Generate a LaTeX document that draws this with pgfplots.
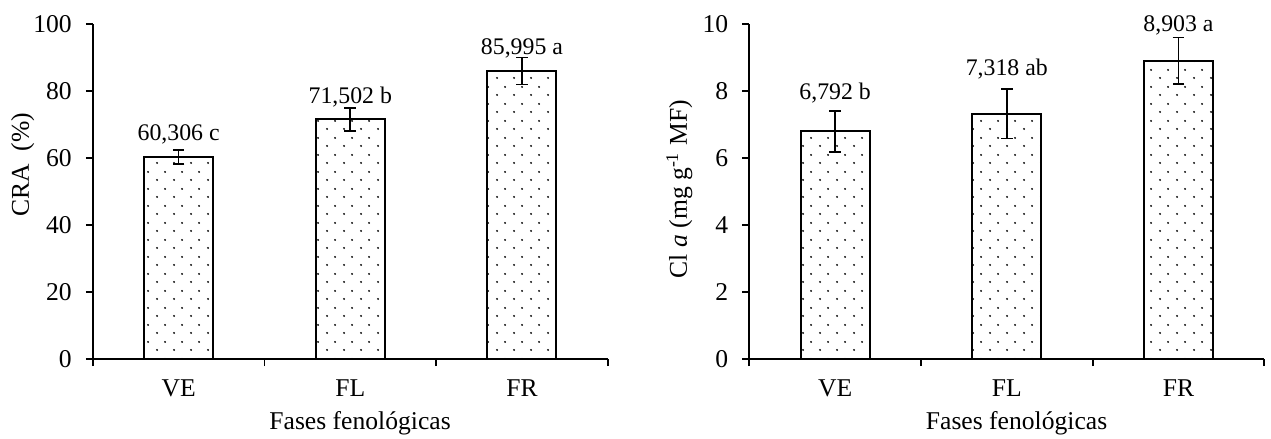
\documentclass[border=0pt]{standalone}
\usepackage{fontspec}
\setmainfont{Liberation Serif}
\usepackage{pgfplots}
\pgfplotsset{compat=1.18}
\usepackage{pgfplotstable}
\usetikzlibrary{patterns}

% staggered dot fill of the bars
\pgfdeclarepatternformonly{sdots}{\pgfqpoint{0pt}{0pt}}{\pgfqpoint{8.5pt}{8.5pt}}{\pgfqpoint{8.5pt}{8.5pt}}{%
  \pgfpathcircle{\pgfqpoint{2.125pt}{2.125pt}}{0.55pt}%
  \pgfpathcircle{\pgfqpoint{6.375pt}{6.375pt}}{0.55pt}%
  \pgfusepath{fill}}

\newcommand\tickfont{\fontsize{12.8pt}{15pt}\selectfont}
\newcommand\labfont{\fontsize{11.9pt}{14pt}\selectfont}

% x = bar centre, err = half error bar, ly = baseline of the value label
\pgfplotstableread{
x   y      err   ly    lab
0.5 60.306 2.15  65.2  {60,306 c}
1.5 71.502 3.39  76.4  {71,502 b}
2.5 85.995 4.03  91.0  {85,995 a}
}\cra
\pgfplotstableread{
x   y     err    ly    lab
0.5 6.792 0.61   7.76  {6,792 b}
1.5 7.318 0.735  8.46  {7,318 ab}
2.5 8.903 0.695  9.78  {8,903 a}
}\cla

\pgfplotsset{panel/.style={
  scale only axis, width=257.5pt, height=167.5pt, xmin=0, xmax=3, ymin=0,
  axis lines*=left, axis line style={line width=1.1pt, black},
  tick align=outside, major tick length=3.5pt,
  every tick/.style={black, line width=0.9pt},
  xtick={0,1,2,3}, xticklabels={,,,},
  extra x ticks={0.5,1.5,2.5}, extra x tick labels={VE,FL,FR},
  extra x tick style={major tick length=0pt},
  ticklabel style={font=\tickfont},
  yticklabel style={xshift=-3.5pt},
  xticklabel style={yshift=-7pt},
  every axis x label/.style={at={(axis description cs:0.519,-0.209)}, anchor=base, font=\tickfont},
  /pgf/number format/assume math mode=true,
  clip=false,
}}

\begin{document}
\begin{tikzpicture}
\path[use as bounding box] (0,0) rectangle (635.5pt,219.5pt);

\begin{axis}[panel, at={(46.4pt,40pt)}, anchor=south west,
  ymax=100, ytick={0,20,...,100},
  ylabel={CRA~ (\%)}, xlabel={Fases fenológicas},
  every axis y label/.style={at={(axis description cs:-0.136,0.58)}, rotate=90, anchor=center, font=\tickfont}]
  \addplot[ybar, bar width=34.5pt, bar shift=0pt, draw=black, line width=1pt, pattern=sdots,
    error bars/.cd, y dir=both, y explicit,
    error bar style={line width=0.8pt, black},
    error mark options={rotate=90, line width=0.8pt, mark size=2.9pt, black}]
    table[x=x, y=y, y error=err] {\cra};
  \addplot[draw=none, nodes near coords, point meta=explicit symbolic,
    every node near coord/.append style={anchor=base, font=\labfont, inner sep=0pt}]
    table[x=x, y=ly, meta=lab] {\cra};
\end{axis}

\begin{axis}[panel, at={(374.65pt,40pt)}, anchor=south west,
  ymax=10, ytick={0,2,...,10},
  ylabel={Cl \textit{a} (mg g\textsuperscript{-1} MF)}, xlabel={Fases fenológicas},
  every axis y label/.style={at={(axis description cs:-0.136,0.507)}, rotate=90, anchor=center, font=\tickfont}]
  \addplot[ybar, bar width=34.5pt, bar shift=0pt, draw=black, line width=1pt, pattern=sdots,
    error bars/.cd, y dir=both, y explicit,
    error bar style={line width=0.8pt, black},
    error mark options={rotate=90, line width=0.8pt, mark size=2.9pt, black}]
    table[x=x, y=y, y error=err] {\cla};
  \addplot[draw=none, nodes near coords, point meta=explicit symbolic,
    every node near coord/.append style={anchor=base, font=\labfont, inner sep=0pt}]
    table[x=x, y=ly, meta=lab] {\cla};
\end{axis}
\end{tikzpicture}
\end{document}
